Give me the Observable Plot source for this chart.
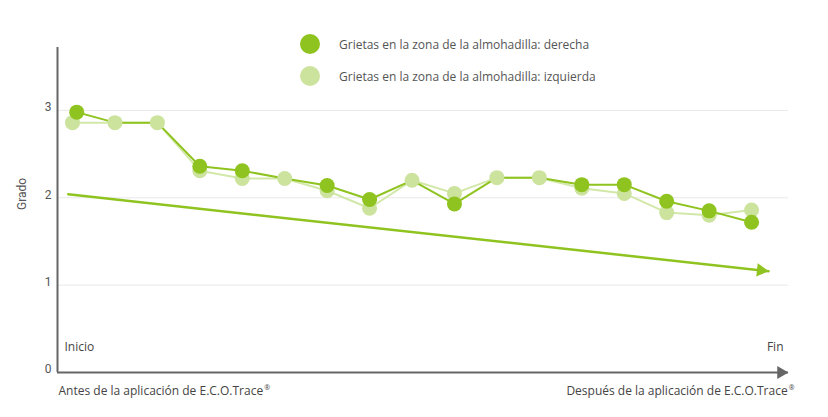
<!DOCTYPE html>
<html><head><meta charset="utf-8">
<script src="https://cdn.jsdelivr.net/npm/d3@7"></script>
<script src="https://cdn.jsdelivr.net/npm/@observablehq/plot@0.6"></script>
<style>
body{margin:0;background:#fff;}
#wrap{position:relative;width:828px;height:417px;}
#legend{position:absolute;left:300px;top:34px;font-family:"Open Sans",sans-serif;font-size:12px;color:#555;}
.item{display:flex;align-items:center;height:20px;margin-bottom:12px;}
.sw{width:20px;height:20px;border-radius:50%;margin-right:19px;flex:none;}
</style></head><body><div id="wrap"><div id="legend"></div></div>
<script>
// ---- data ----
const seriesNames = ["Grietas en la zona de la almohadilla: derecha", "Grietas en la zona de la almohadilla: izquierda"];
const xDerecha   = [0.1, 1, 2, 3, 4, 5, 6, 7, 8, 9, 10, 11, 12, 13, 14, 15, 16];
const xIzquierda = [0, 1, 2, 3, 4, 5, 6, 7, 8, 9, 10, 11, 12, 13, 14, 15, 16];
const derecha    = [2.98, 2.86, 2.86, 2.36, 2.31, 2.22, 2.14, 1.98, 2.20, 1.93, 2.23, 2.23, 2.15, 2.15, 1.96, 1.85, 1.72];
const izquierda  = [2.86, 2.86, 2.86, 2.31, 2.22, 2.22, 2.08, 1.88, 2.20, 2.05, 2.23, 2.23, 2.11, 2.05, 1.83, 1.80, 1.86];
const trendX = [-0.1, 16.4];
const trendY = [2.04, 1.16];
const yTicks = [0, 1, 2, 3];
const gridTicks = [1, 2, 3];
const xDomain = [-0.353, 16.87];
const yDomain = [0, 3.72];
const startLabel = "Inicio", endLabel = "Fin";
const beforeLabel = "Antes de la aplicación de E.C.O.Trace";
const afterLabel = "Después de la aplicación de E.C.O.Trace";
const yLabel = "Grado";

// ---- styles ----
const dark = "#8fc31f", light = "#cce39e", lightLine = "#d2e8a9", axisColor = "#666";
const labelFont = "'Open Sans',sans-serif";

const der = derecha.map((v, i) => ({x: xDerecha[i], y: v, same: v === izquierda[i]}));
const izq = izquierda.map((v, i) => ({x: xIzquierda[i], y: v}));
const trend = trendX.map((x, i) => ({x, y: trendY[i]}));
const trendEnd = [trend[trend.length - 1]];

const chart = Plot.plot({
  width: 828, height: 417,
  marginLeft: 57, marginRight: 40, marginTop: 47, marginBottom: 45,
  x: {domain: xDomain, axis: null},
  y: {domain: yDomain, axis: null},
  style: {background: "white"},
  marks: [
    Plot.gridY(gridTicks, {stroke: "#e8e8e8", strokeOpacity: 1}),
    Plot.axisY(yTicks, {tickSize: 0, tickPadding: 6, tickFormat: d => String(d), fontSize: 12, fill: "#555", label: null, fontFamily: "Roboto, sans-serif", dy: -3}),
    Plot.text([yLabel], {frameAnchor: "left", rotate: -90, dx: -35, fontSize: 12, fill: "#555", fontFamily: "Roboto, sans-serif"}),
    Plot.ruleX([xDomain[0]], {stroke: axisColor, strokeWidth: 2}),
    Plot.ruleY([0], {stroke: axisColor, strokeWidth: 2}),
    Plot.dot([{x: xDomain[1], y: 0}], {x: "x", y: "y", symbol: "triangle", r: 4.8, rotate: 90, fill: axisColor, stroke: null, dx: -7.5}),
    Plot.line(trend, {x: "x", y: "y", stroke: dark, strokeWidth: 2.5}),
    Plot.dot(trendEnd, {x: "x", y: "y", symbol: "triangle", r: 5, rotate: 96.3, fill: dark, stroke: null, dx: -7.7, dy: -0.85}),
    Plot.line(izq, {x: "x", y: "y", stroke: lightLine, strokeWidth: 2}),
    Plot.line(der, {x: "x", y: "y", stroke: dark, strokeWidth: 2}),
    Plot.dot(izq, {x: "x", y: "y", r: 7.5, fill: light, stroke: null}),
    Plot.dot(der.filter(d => !d.same), {x: "x", y: "y", r: 7.5, fill: dark, stroke: null}),
    Plot.text([startLabel], {frameAnchor: "bottom-left", dx: 7, dy: -22, textAnchor: "start", fontSize: 12, fill: "#444", fontFamily: labelFont}),
    Plot.text([endLabel], {frameAnchor: "bottom-right", dx: -5, dy: -22, textAnchor: "end", fontSize: 12, fill: "#444", fontFamily: labelFont}),
    Plot.text([beforeLabel], {frameAnchor: "bottom-left", dx: 1, dy: 22, textAnchor: "start", fontSize: 12, fill: "#444", fontFamily: labelFont}),
    Plot.text([afterLabel], {frameAnchor: "bottom-right", dx: 6, dy: 22, textAnchor: "end", fontSize: 12, fill: "#444", fontFamily: labelFont})
  ]
});

// superscript ® after E.C.O.Trace
d3.select(chart).selectAll("text").each(function() {
  if (this.textContent.endsWith("E.C.O.Trace")) {
    d3.select(this).append("tspan").attr("dy", "-0.6em").attr("dx", 1).attr("font-size", 7).text("®");
  }
});

document.getElementById("wrap").prepend(chart);

const legend = d3.select("#legend");
[dark, light].forEach((c, i) => {
  const item = legend.append("div").attr("class", "item");
  item.append("div").attr("class", "sw").style("background", c);
  item.append("span").text(seriesNames[i]);
});
</script>
</body></html>
